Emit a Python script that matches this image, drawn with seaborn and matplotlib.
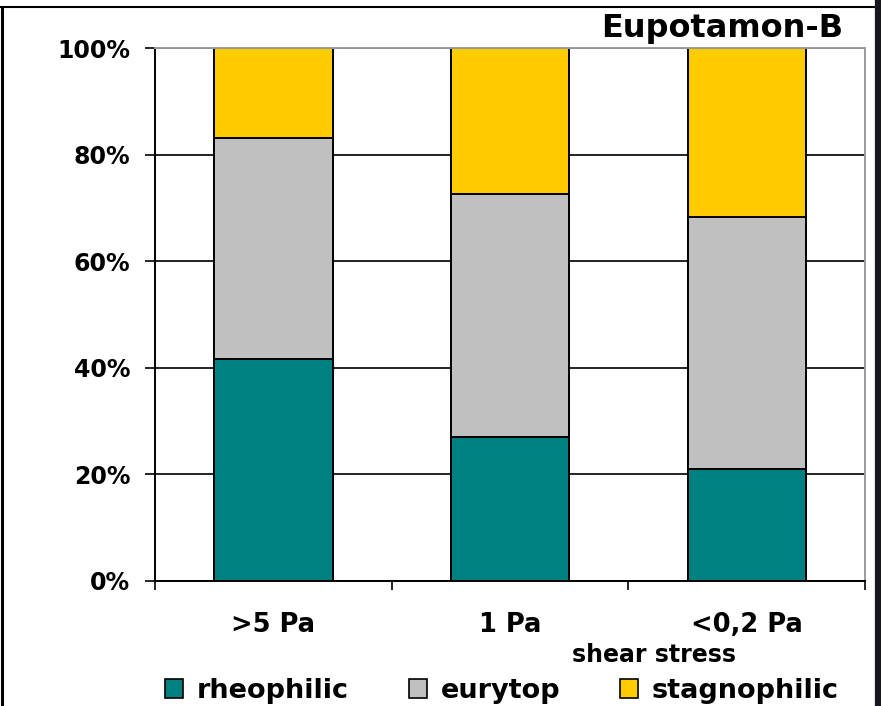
import matplotlib
matplotlib.use("Agg")
import matplotlib.pyplot as plt
from matplotlib.lines import Line2D
from matplotlib.patches import Patch
import seaborn as sns
import pandas as pd
import numpy as np

# Share of ecological groups (%) per shear-stress class
categories = [">5 Pa", "1 Pa", "<0,2 Pa"]
rheophilic = [41.6, 27.1, 21.0]
eurytop = [41.6, 45.6, 47.3]
stagnophilic = [16.8, 27.3, 31.7]
series_names = ["rheophilic", "eurytop", "stagnophilic"]
series_colors = ["#008080", "#C0C0C0", "#FFCC00"]
y_ticks = [0, 20, 40, 60, 80, 100]
y_tick_labels = ["0%", "20%", "40%", "60%", "80%", "100%"]
title = "Eupotamon-B"
x_title = "shear stress"

sns.set_theme(style="white")
plt.rcParams["font.family"] = ["DejaVu Sans"]
plt.rcParams["font.weight"] = "bold"
plt.rcParams["text.color"] = "black"
plt.rcParams["axes.labelcolor"] = "black"

W, H = 881, 706
fig = plt.figure(figsize=(W / 100, H / 100), dpi=100)
fig.patch.set_facecolor("white")
ax = fig.add_axes([155 / W, 125 / H, 710 / W, 533 / H])

df = pd.DataFrame({
    "stress": categories,
    "rheophilic": rheophilic,
    "eurytop": eurytop,
    "stagnophilic": stagnophilic,
})
# stacked bars: cumulative heights, tallest segment drawn first
stack = df[series_names].cumsum(axis=1)
stack["stress"] = df["stress"]

for name, color in reversed(list(zip(series_names, series_colors))):
    sns.barplot(data=stack, x="stress", y=name, order=categories, color=color,
                saturation=1, width=0.5, edgecolor="black", linewidth=1.4,
                ax=ax, zorder=2)

ax.set_xlim(-0.5, 2.5)
ax.set_ylim(0, 100)
ax.set_ylabel("")
ax.set_xlabel(x_title, fontsize=17, fontweight="bold", color="black")
ax.xaxis.set_label_coords(0.703, -0.116)

ax.set_yticks(y_ticks)
ax.set_yticklabels(y_tick_labels)
ax.yaxis.grid(True, color="#111111", linewidth=1.3)
ax.xaxis.grid(False)
ax.set_axisbelow(True)

ax.tick_params(axis="y", left=True, direction="out", length=7.2, width=1.2,
               pad=10.5, labelsize=17, colors="black")
ax.set_xticks([0, 1, 2])
ax.set_xticklabels(categories)
ax.tick_params(axis="x", which="major", bottom=True, length=0, pad=22,
               labelsize=18.5, colors="black")
ax.set_xticks([-0.5, 0.5, 1.5, 2.5], minor=True)
ax.tick_params(axis="x", which="minor", bottom=True, direction="out",
               length=6.5, width=1.2, color="black")
for lab in ax.get_xticklabels() + ax.get_yticklabels():
    lab.set_fontweight("bold")

for side in ("left", "bottom"):
    ax.spines[side].set_color("black")
    ax.spines[side].set_linewidth(1.4)
for side in ("top", "right"):
    ax.spines[side].set_color("#9a9a9a")
    ax.spines[side].set_linewidth(1.4)

fig.text(843 / W, 1 - 37 / H, title, ha="right", va="baseline",
         fontsize=23, fontweight="bold")

handles = [Patch(facecolor=c, edgecolor="black", linewidth=1.2) for c in series_colors]
fig.legend(handles, series_names, loc="center", bbox_to_anchor=(502 / W, 1 - 691 / H),
           ncol=3, frameon=False, handlelength=0.66, handleheight=0.66,
           handletextpad=0.5, columnspacing=2.23, borderaxespad=0, borderpad=0,
           prop={"weight": "bold", "size": 19.5})

# outer frame
fig.add_artist(Line2D([0, 875 / W], [1 - 7 / H, 1 - 7 / H], transform=fig.transFigure,
                      color="black", linewidth=1.5))
fig.add_artist(Line2D([1.5 / W, 1.5 / W], [0, 1 - 7 / H], transform=fig.transFigure,
                      color="black", linewidth=2.2))
fig.add_artist(Line2D([878 / W, 878 / W], [0, 1], transform=fig.transFigure,
                      color="#16161e", linewidth=4.5))

fig.savefig("out.png", dpi=100)
